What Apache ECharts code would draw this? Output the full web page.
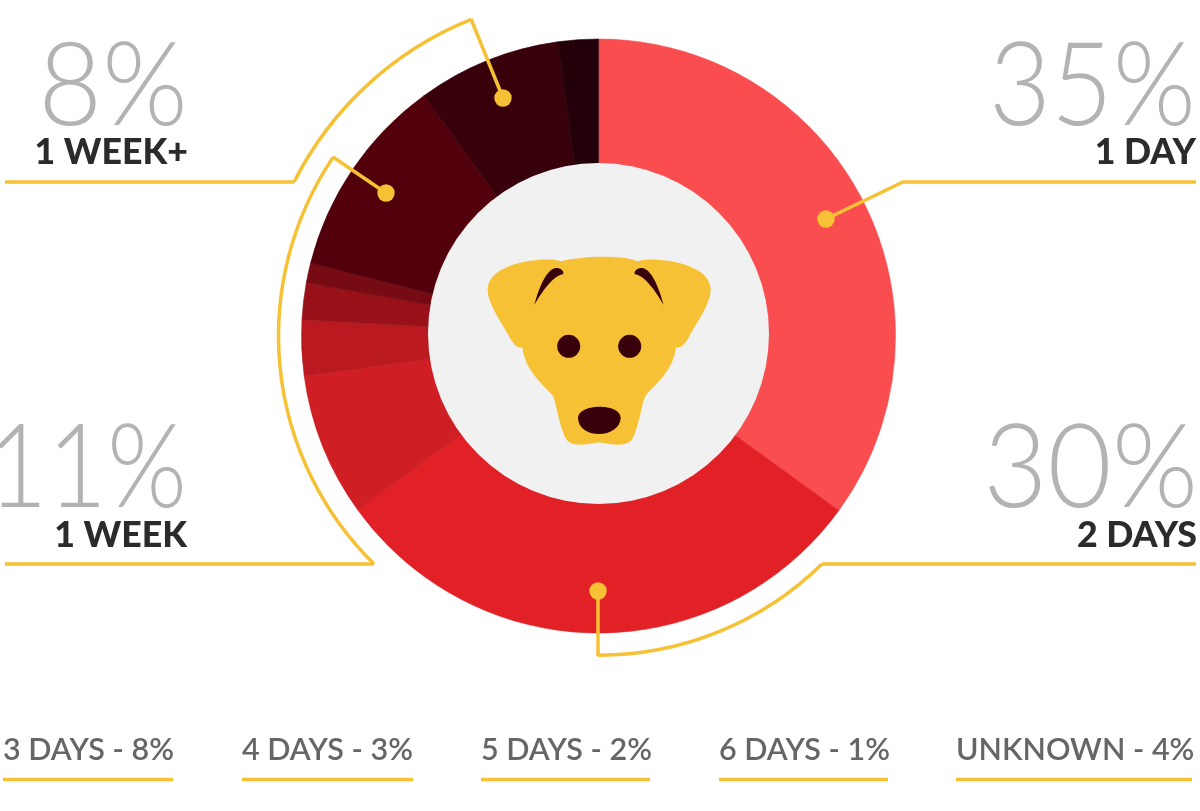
<!DOCTYPE html>
<html><head><meta charset="utf-8">
<style>html,body{margin:0;padding:0;background:#fff}#c{width:1200px;height:811px}</style>
<script src="https://cdn.jsdelivr.net/npm/echarts@6/dist/echarts.min.js"></script>
</head><body><div id="c"></div>
<script>
const categories = ['1 Day','2 Days','3 Days','4 Days','5 Days','6 Days','1 Week','1 Week+','Unknown'];
const sliceValues = [35,30.05,7.8,3.03,2,1.08,11.05,7.8,2.2];
const sliceColors = ['#F94D50','#E12126','#CF1E24','#BB1920','#981118','#770B14','#52000C','#38000B','#23000A'];
const bigPercents = ['35%','30%','11%','8%'];
const bigNames = ['1 DAY','2 DAYS','1 WEEK','1 WEEK+'];
const bottomLabels = ['3 DAYS - 8%','4 DAYS - 3%','5 DAYS - 2%','6 DAYS - 1%','UNKNOWN - 4%'];

const CX=598.5, CY=336, YEL='#F6C135', DARK='#38000B';
const g=[];
const LW=3.5;
function poly(points){g.push({type:'polyline',z:10,shape:{points},style:{stroke:YEL,lineWidth:LW,fill:null,lineJoin:'miter'}});}
function arc(p,q){
  const a=Math.atan2(p[1]-CY,p[0]-CX), b=Math.atan2(q[1]-CY,q[0]-CX), r=Math.hypot(p[0]-CX,p[1]-CY);
  g.push({type:'arc',z:10,shape:{cx:CX,cy:CY,r,startAngle:a,endAngle:b,clockwise:true},style:{stroke:YEL,lineWidth:LW,fill:null}});
}
function dot(x,y){g.push({type:'circle',z:11,shape:{cx:x,cy:y,r:8.7},style:{fill:YEL}});}
function text(t,x,base,align,weight,size,fill,sx){g.push({type:'text',z:12,x,y:base-size*0.82,scaleX:sx||1,style:{text:t,x:0,y:0,align,verticalAlign:'top',font:weight+' '+size+'px Lato',fill}});}

// centre disc
g.push({type:'circle',z:3,shape:{cx:598.5,cy:333.5,r:170.5},style:{fill:'#F1F1F1'}});

// connectors
poly([[1196,182],[903,182],[826,219]]); dot(826,219);
poly([[1196,564],[822,564]]); arc([822,564],[598,656]); poly([[598,656],[598,591]]); dot(598,591);
poly([[5,564],[374,564]]); arc([374,564],[333,157]); poly([[333,157],[386,193]]); dot(386,193);
poly([[5,182],[294,182]]); arc([294,182],[471,19]); poly([[471,19],[503,98]]); dot(503,98);

// headline text
const bigPos=[[1196,125],[1198,507],[187,507],[188,125]];
const bigScale=[0.92,0.955,0.885,0.95];
const namePos=[[1196,164],[1197,547],[187,547],[188,164]];
bigPercents.forEach((t,i)=>text(t,bigPos[i][0],bigPos[i][1],'right',300,116,'#B3B3B3',bigScale[i]));
bigNames.forEach((t,i)=>text(t,namePos[i][0],namePos[i][1],'right',900,35.7,'#2B2B2B'));

// bottom legend
const lx=[[3,173],[242,413],[481,650],[719,888],[956,1192]];
bottomLabels.forEach((t,i)=>{
  text(t,lx[i][0],760,'left',600,30.5,'#666666');
  g.push({type:'line',z:10,shape:{x1:lx[i][0],y1:779.5,x2:lx[i][1],y2:779.5},style:{stroke:YEL,lineWidth:LW}});
});

// dog (drawn in 3x crop coordinates, fitted to its box)
const dogParts=[
 ['M272 65C320 52 450 42 503 65C540 50 722 65 722 150C722 190 680 250 660 285C645 312 635 325 618 322C610 390 560 430 530 462C515 480 515 530 490 590C475 620 440 615 387 606C335 615 300 620 285 590C260 530 260 480 245 462C215 430 165 390 157 322C140 325 130 312 115 285C95 250 53 190 53 150C53 65 235 50 272 65Z',53,722,50,614,YEL],
 ['M193 195C210 130 235 80 262 85C275 88 280 95 278 103C250 105 215 155 193 195Z',193,280,84,195,DARK],
 ['M581 195C564 130 539 80 512 85C499 88 494 95 496 103C524 105 559 155 581 195Z',494,581,84,195,DARK],
 ['M324 535C324 510 360 500 388 500C420 500 452 510 452 535C450 565 420 582 388 582C350 582 326 565 324 535Z',324,452,500,582,DARK]
];
function renderDog(){
  const children=dogParts.map(p=>({type:'path',shape:{pathData:p[0],x:470+p[1]/3,y:240+p[3]/3,width:(p[2]-p[1])/3,height:(p[4]-p[3])/3,layout:'cover'},style:{fill:p[5]}}));
  children.push({type:'circle',shape:{cx:568.7,cy:346.3,r:11.5},style:{fill:DARK}});
  children.push({type:'circle',shape:{cx:629.7,cy:346.3,r:11.5},style:{fill:DARK}});
  return {type:'group',children};
}

const chart=echarts.init(document.getElementById('c'),null,{renderer:'canvas'});
chart.setOption({
  animation:false,
  backgroundColor:'#fff',
  tooltip:{show:false},
  series:[{
    type:'pie',z:1,center:[CX,CY],radius:[150,297],startAngle:90,clockwise:true,silent:true,
    label:{show:false},labelLine:{show:false},
    data:categories.map((name,i)=>({name,value:sliceValues[i],itemStyle:{color:sliceColors[i],borderColor:sliceColors[i],borderWidth:0.6}}))
  },{
    type:'custom',z:5,coordinateSystem:'none',silent:true,data:[0],renderItem:renderDog
  }],
  graphic:{elements:g}
});
</script></body></html>
